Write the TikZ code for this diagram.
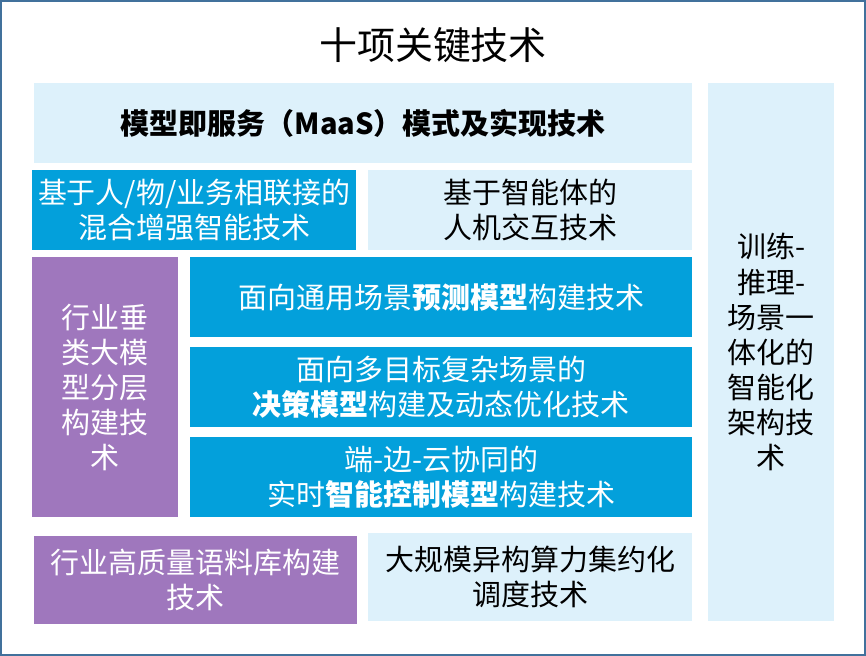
\documentclass[tikz,border=0pt]{standalone}
\usepackage{fontspec}
\setmainfont{Noto Sans CJK SC}
\usetikzlibrary{positioning}
\definecolor{frameblue}{RGB}{65,113,156}
\definecolor{lightbox}{RGB}{221,241,251}
\definecolor{bluebox}{RGB}{3,160,219}
\definecolor{purplebox}{RGB}{159,119,189}
\tikzset{
  box/.style={anchor=north west, inner sep=0pt, align=center,
    font=\fontsize{16.5}{20}\selectfont},
  lightbox/.style={box, fill=lightbox, text=black},
  bluebox/.style={box, fill=bluebox, text=white},
  purplebox/.style={box, fill=purplebox, text=white},
}

\begin{document}
\begin{tikzpicture}[x=0.02cm,y=-0.02cm]
                    \useasboundingbox (0,0) rectangle (866,656);

                    % Drawing frame
                    \draw [frameblue, line width=0.045cm] (1,1) rectangle (865,655);%

                    % Marking title
                    \node (title) at (433,45) {\fontsize{21.6}{24}\selectfont 十项关键技术};%

                    % Drawing box maas
                    \node [lightbox, minimum width=13.16cm, minimum height=1.60cm] (maas) at (34,83)
                      {\textbf{模型即服务（MaaS）模式及实现技术}};%

                    % Drawing box hybrid
                    \node [bluebox, minimum width=6.48cm, minimum height=1.60cm] (hybrid) at (32,170)
                      {基于人/物/业务相联接的\\混合增强智能技术};%

                    % Drawing box agent
                    \node [lightbox, minimum width=6.48cm, minimum height=1.60cm] (agent) at (368,170)
                      {基于智能体的\\人机交互技术};%

                    % Drawing box layered
                    \node [purplebox, minimum width=2.92cm, minimum height=5.20cm] (layered) at (32,257)
                      {行业垂\\类大模\\型分层\\构建技\\术};%

                    % Drawing box predict
                    \node [bluebox, minimum width=10.04cm, minimum height=1.60cm] (predict) at (190,257)
                      {面向通用场景\textbf{预测模型}构建技术};%

                    % Drawing box decision
                    \node [bluebox, minimum width=10.04cm, minimum height=1.60cm] (decision) at (190,347)
                      {面向多目标复杂场景的\\\textbf{决策模型}构建及动态优化技术};%

                    % Drawing box control
                    \node [bluebox, minimum width=10.04cm, minimum height=1.60cm] (control) at (190,437)
                      {端-边-云协同的\\实时\textbf{智能控制模型}构建技术};%

                    % Drawing box corpus
                    \node [purplebox, minimum width=6.46cm, minimum height=1.76cm] (corpus) at (34,536)
                      {行业高质量语料库构建\\技术};%

                    % Drawing box compute
                    \node [lightbox, minimum width=6.48cm, minimum height=1.76cm] (compute) at (368,533)
                      {大规模异构算力集约化\\调度技术};%

                    % Drawing box arch
                    \node [lightbox, minimum width=2.52cm, minimum height=10.76cm] (arch) at (708,83)
                      {训练-\\推理-\\场景一\\体化的\\智能化\\架构技\\术};%
                    \end{tikzpicture}
\end{document}
